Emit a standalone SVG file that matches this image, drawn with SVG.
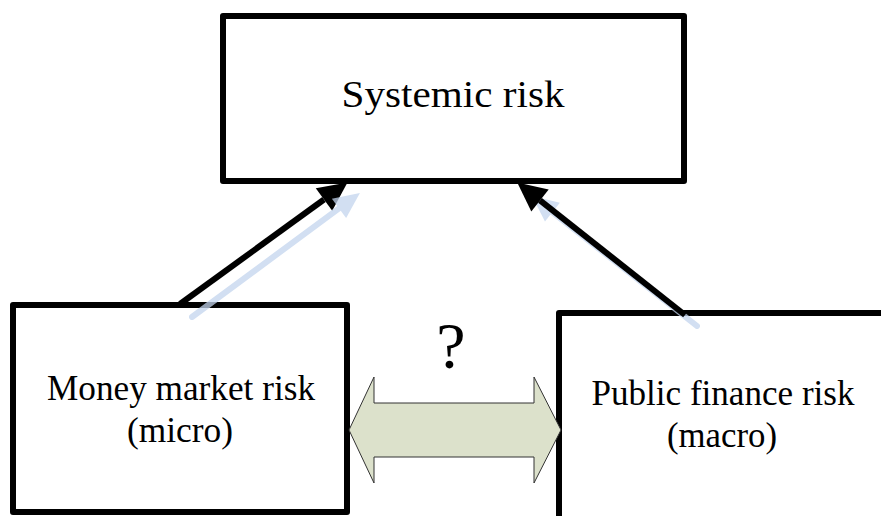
<svg xmlns="http://www.w3.org/2000/svg" width="881" height="516" viewBox="0 0 881 516">
<style>
.box{fill:#fff;stroke:#000;stroke-width:6;stroke-linejoin:round}
.t{font-family:"Liberation Serif","Times New Roman",serif;fill:#000;text-anchor:middle}
.blk{stroke:#000;stroke-width:6;fill:none}
.blu{stroke:#c3d5ee;stroke-width:6;stroke-linecap:round;fill:none;opacity:0.75}
</style>
<defs>
<marker id="hb" markerUnits="userSpaceOnUse" viewBox="0 -14 29 28" refX="0" refY="0" markerWidth="29" markerHeight="28" orient="auto" overflow="visible">
<path d="M0,-14 L29,0 L0,14 z" fill="#000"/>
</marker>
<marker id="hl" markerUnits="userSpaceOnUse" viewBox="0 -12 26 24" refX="0" refY="0" markerWidth="26" markerHeight="24" orient="auto" overflow="visible">
<path d="M0,-12 L26,0 L0,12 z" fill="#c3d5ee"/>
</marker>
</defs>
<rect width="881" height="516" fill="#fff"/>
<g id="systemic">
<rect class="box" x="223" y="16" width="461" height="165"/>
<text class="t" x="453" y="107" font-size="38" textLength="223" lengthAdjust="spacingAndGlyphs">Systemic risk</text>
</g>
<g id="money">
<rect class="box" x="13" y="305" width="334" height="207"/>
<text class="t" x="181" y="400" font-size="35" textLength="268" lengthAdjust="spacingAndGlyphs">Money market risk</text>
<text class="t" x="180" y="442" font-size="35" textLength="106" lengthAdjust="spacingAndGlyphs">(micro)</text>
</g>
<g id="public">
<rect class="box" x="559" y="313" width="400" height="300"/>
<text class="t" x="723" y="405" font-size="35" textLength="263" lengthAdjust="spacingAndGlyphs">Public finance risk</text>
<text class="t" x="722" y="447" font-size="35" textLength="110" lengthAdjust="spacingAndGlyphs">(macro)</text>
</g>
<g id="connectors">
<line class="blu" x1="697" y1="326" x2="552.4" y2="212.1" marker-end="url(#hl)"/>
<line class="blk" x1="180" y1="304" x2="324" y2="199.5" marker-end="url(#hb)"/>
<line class="blk" x1="685" y1="315" x2="540" y2="200.4" marker-end="url(#hb)"/>
<line class="blu" x1="192" y1="317" x2="339" y2="208.4" marker-end="url(#hl)"/>
<polygon points="349,430 374,377 374,403 534,403 534,377 561,430 534,483 534,457 374,457 374,483" fill="#dce1cb" stroke="#333" stroke-width="1"/>
<text class="t" x="451" y="368" font-size="66">?</text>
</g>
</svg>
